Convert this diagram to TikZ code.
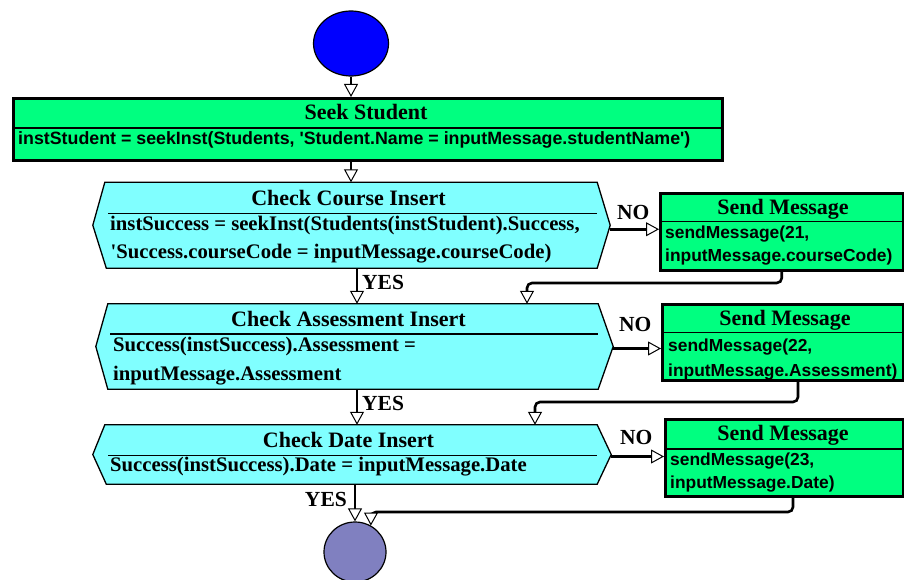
\documentclass[tikz,border=0pt]{standalone}
\usepackage{fontspec}
\setmainfont{Liberation Serif}
\setsansfont{Liberation Sans}
\usetikzlibrary{arrows.meta,shapes.geometric}

\definecolor{startblue}{HTML}{0000FF}
\definecolor{actgreen}{HTML}{00FF80}
\definecolor{testcyan}{HTML}{80FFFF}
\definecolor{endviolet}{HTML}{8080C0}

\begin{document}
\begin{tikzpicture}[x=1pt,y=-1pt,
  conn/.style={line width=2.6pt,-{Triangle[fill=white,length=13pt,width=14pt,line width=1pt]}},
  ret/.style={conn,rounded corners=5pt},
  actbox/.style={draw,line width=3pt,fill=actgreen,inner sep=0pt},
  testarea/.style={inner sep=0pt},
  testframe/.style={draw,line width=1.3pt,fill=testcyan,line join=miter},
  divider/.style={line width=1.3pt},
  ttl/.style={inner sep=0pt,anchor=base,font=\bfseries\fontsize{22}{26}\selectfont},
  cond/.style={inner sep=0pt,anchor=base west,font=\bfseries\fontsize{20.7}{24}\selectfont},
  code/.style={inner sep=0pt,anchor=base west,font=\sffamily\bfseries\fontsize{17.8}{21}\selectfont},
  msgcode/.style={inner sep=0pt,anchor=base west,font=\sffamily\bfseries\fontsize{17.4}{21}\selectfont},
  lbl/.style={inner sep=0pt,font=\bfseries\fontsize{21.5}{25}\selectfont},
  terminal/.style={ellipse,draw,line width=1.2pt,inner sep=0pt}
]
\useasboundingbox (0,0) rectangle (904,580);

% ---- start / end terminals
\node[terminal,fill=startblue,minimum width=75pt,minimum height=65pt] (start) at (351,43.5) {};
\node[terminal,fill=endviolet,minimum width=62pt,minimum height=60pt] (end) at (355,552) {};

% ---- Seek Student action
\node[actbox,minimum width=709pt,minimum height=62pt] (seek) at (368,129.5) {};
\draw[divider] (seek.west |- 0,128) -- (seek.east |- 0,128);
\node[ttl] (seekT) at (366,120) {Seek Student};
\node[code] (seekC) at (18,145) {instStudent = seekInst(Students, \textquotesingle Student.Name = inputMessage.studentName\textquotesingle)};

% ---- decision hexagons (body rectangle + pointed ends)
\node[testarea,minimum width=492pt,minimum height=85.5pt] (h1) at (351,225.25) {};
\coordinate (h1l) at ([xshift=-12pt]h1.west);
\coordinate (h1r) at ([xshift=13pt]h1.east);
\draw[testframe] (h1.north west) -- (h1.north east) -- (h1r) -- (h1.south east)
  -- ([xshift=1.5pt]h1.south west) -- (h1l) -- cycle;
\draw[divider] (108,213.3) -- (h1.north east |- 0,213.3);
\node[ttl] (h1T) at (348.5,205.7) {Check Course Insert};
\node[cond] (h1a) at (110,230) {instSuccess = seekInst(Students(instStudent).Success,};
\node[cond] (h1b) at (110.5,258.3) {\textquotesingle Success.courseCode = inputMessage.courseCode)};

\node[testarea,minimum width=490pt,minimum height=85pt] (h2) at (353,346.5) {};
\coordinate (h2l) at ([xshift=-12pt]h2.west);
\coordinate (h2r) at ([xshift=15pt]h2.east);
\draw[testframe] (h2.north west) -- (h2.north east) -- (h2r) -- (h2.south east)
  -- (h2.south west) -- (h2l) -- cycle;
\draw[divider] (110,334) -- (h2.north east |- 0,334);
\node[ttl] (h2T) at (348.5,326.7) {Check Assessment Insert};
\node[cond] (h2a) at (113,351.7) {Success(instSuccess).Assessment =};
\node[cond] (h2b) at (113,380) {inputMessage.Assessment};

\node[testarea,minimum width=492pt,minimum height=59pt] (h3) at (351,454.5) {};
\coordinate (h3l) at ([xshift=-12pt]h3.west);
\coordinate (h3r) at ([xshift=14pt]h3.east);
\draw[testframe] (h3.north west) -- (h3.north east) -- (h3r) -- (h3.south east)
  -- ([xshift=1.5pt]h3.south west) -- (h3l) -- cycle;
\draw[divider] (108,455.7) -- (h3.north east |- 0,455.7);
\node[ttl] (h3T) at (348.5,447.3) {Check Date Insert};
\node[cond] (h3a) at (110,471.7) {Success(instSuccess).Date = inputMessage.Date};

% ---- Send Message actions
\node[actbox,minimum width=242.5pt,minimum height=77pt] (s1) at (781.75,232) {};
\draw[divider] (s1.west |- 0,221.7) -- (s1.east |- 0,221.7);
\node[ttl] (s1T) at (783,214.3) {Send Message};
\node[msgcode] (s1a) at (665,238.3) {sendMessage(21,};
\node[msgcode] (s1b) at (665,261.7) {inputMessage.courseCode)};

\node[actbox,minimum width=240.5pt,minimum height=76.5pt] (s2) at (782.75,342.25) {};
\draw[divider] (s2.west |- 0,332.7) -- (s2.east |- 0,332.7);
\node[ttl] (s2T) at (785,325) {Send Message};
\node[msgcode] (s2a) at (668,351.7) {sendMessage(22,};
\node[msgcode] (s2b) at (668,376) {inputMessage.Assessment)};

\node[actbox,minimum width=237.5pt,minimum height=77pt] (s3) at (784.25,458) {};
\draw[divider] (s3.west |- 0,449) -- (s3.east |- 0,449);
\node[ttl] (s3T) at (783,440) {Send Message};
\node[msgcode] (s3a) at (670,465.7) {sendMessage(23,};
\node[msgcode] (s3b) at (670,488.3) {inputMessage.Date)};

% ---- main flow
\draw[conn] (start.south) -- (start.south |- seek.north);
\draw[conn] (start.south |- seek.south) -- (start.south |- h1.north);
\draw[conn] ([xshift=6pt]h1.south) -- ([xshift=6pt]h1.south |- h2.north);
\draw[conn] ([xshift=4pt]h2.south) -- ([xshift=4pt]h2.south |- h3.north);
\draw[conn] (end.north |- h3.south) -- (end.north);

% ---- NO branches
\draw[conn] ([yshift=-4pt]h1r) -- ([yshift=-4pt]h1r -| s1.west);
\draw[conn] ([yshift=-2pt]h2r) -- ([yshift=-2pt]h2r -| s2.west);
\draw[conn] ([yshift=-2pt]h3r) -- ([yshift=-2pt]h3r -| s3.west);

% ---- returns from Send Message
\coordinate (m1) at (527,283);
\draw[ret] (s1.south) |- (m1) -- (m1 |- h2.north);
\coordinate (c2) at (798,402);
\coordinate (m2) at (535,402);
\draw[ret] (c2 |- s2.south) |- (m2) -- (m2 |- h3.north);
\coordinate (c3) at (793,512);
\coordinate (m3) at (371,512);
\draw[ret] (c3 |- s3.south) |- (m3) -- (end.59);

% ---- branch labels
\node[lbl,anchor=base west] (no1) at (617,219) {NO};
\node[lbl,anchor=base west] (no2) at (619,331.7) {NO};
\node[lbl,anchor=base west] (no3) at (620,444) {NO};
\node[lbl,anchor=base west] (yes1) at (362,289) {YES};
\node[lbl,anchor=base west] (yes2) at (362,410) {YES};
\node[lbl,anchor=base east] (yes3) at (347,506) {YES};
\end{tikzpicture}
\end{document}
